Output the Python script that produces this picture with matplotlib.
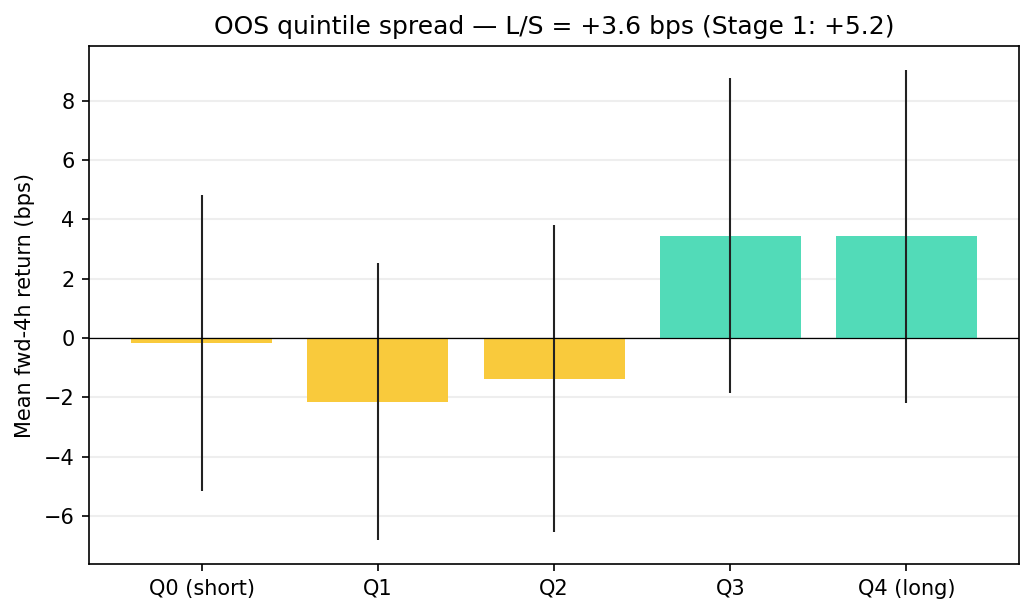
import matplotlib
matplotlib.use("Agg")
import matplotlib.pyplot as plt
import numpy as np

categories = ["Q0 (short)", "Q1", "Q2", "Q3", "Q4 (long)"]
means = [-0.17, -2.15, -1.37, 3.45, 3.43]
errors = [5.0, 4.68, 5.18, 5.30, 5.62]
colors = ["#F9CA3C", "#F9CA3C", "#F9CA3C", "#52DBB8", "#52DBB8"]

fig = plt.figure(figsize=(1033 / 150, 615 / 150), dpi=150)
ax = fig.add_axes([0.0862, 0.0829, 0.9003, 0.8423])
x = np.arange(len(categories))
ax.bar(x, means, yerr=errors, color=colors, width=0.8,
       error_kw=dict(ecolor="#222222", elinewidth=1.0, capsize=0))
ax.axhline(0, color="black", linewidth=0.6)
ax.yaxis.grid(True, color="#eeeeee", linewidth=1.0)
ax.set_axisbelow(True)
ax.set_xticks(x)
ax.set_xticklabels(categories)
ax.set_ylabel("Mean fwd-4h return (bps)")
ax.set_title("OOS quintile spread — L/S = +3.6 bps (Stage 1: +5.2)")
fig.savefig("out.png", dpi=150)
